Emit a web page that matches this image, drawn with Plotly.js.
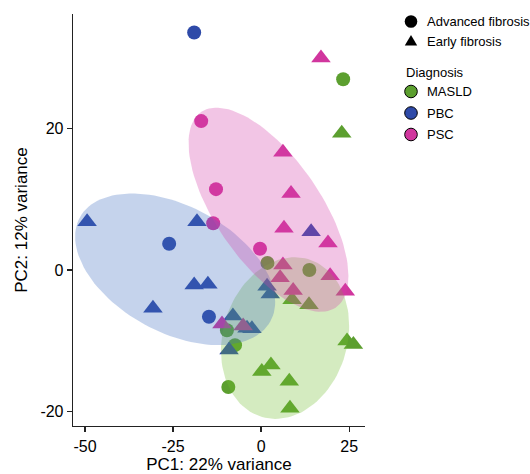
<!DOCTYPE html>
<html><head><meta charset="utf-8">
<script src="https://cdn.plot.ly/plotly-3.0.1.min.js"></script>
<style>html,body{margin:0;padding:0;background:#fff}#chart{width:530px;height:474px}</style>
</head><body><div id="chart"></div>
<script>
// ---- categories ----
const diagnoses = ['MASLD', 'PBC', 'PSC'];
const fibrosisStages = ['Advanced fibrosis', 'Early fibrosis'];
const xTickVals = [-50, -25, 0, 25];
const yTickVals = [-20, 0, 20];

// ---- sample scores (PC1, PC2) ----
const masldAdvancedPC1 = [23.3, 1.8, 13.7, -9.7, -7.4, -9.3];
const masldAdvancedPC2 = [26.9, 1.0, 0.0, -8.5, -10.6, -16.5];
const masldEarlyPC1 = [22.9, 8.8, 13.6, 0.2, 2.8, 8.0, 8.2, 24.4, 26.2];
const masldEarlyPC2 = [19.3, -4.2, -4.9, -14.3, -13.4, -15.7, -19.5, -10.0, -10.5];

const pbcAdvancedPC1 = [-19.0, -26.1, -14.8];
const pbcAdvancedPC2 = [33.5, 3.7, -6.6];
const pbcEarlyPC1 = [-49.4, -18.2, -19.0, -15.1, -30.7, 14.2, 1.7, 2.6, -8.0, -4.0, -2.6, -9.1];
const pbcEarlyPC2 = [6.8, 6.8, -2.1, -2.0, -5.4, 5.4, -2.3, -3.4, -6.5, -8.2, -8.3, -11.3];

const pscAdvancedPC1 = [-17.0, -12.8, -13.6, -0.3];
const pscAdvancedPC2 = [21.0, 11.4, 6.6, 3.0];
const pscEarlyPC1 = [17.0, 6.2, 8.5, 6.5, 19.0, 6.2, 5.4, 19.6, 9.1, 23.9, -11.1, -5.1];
const pscEarlyPC2 = [29.9, 16.6, 10.8, 5.9, 3.8, 0.7, -1.1, -0.8, -2.9, -3.0, -7.6, -7.9];

// ---- group ellipses (per diagnosis) ----
const ellipseCenterPC1 = [6.8, -24.4, 2.1];
const ellipseCenterPC2 = [-9.6, 0.1, 8.5];
const ellipseSpreadPC1 = [18.2, 28.4, 22.7];
const ellipseSpreadPC2 = [11.4, 10.7, 14.4];
const ellipseCorrelation = [0.15, -0.43, -0.65];

// ---- styles ----
const diagnosisColors = ['#5C9F2F', '#2E4AA8', '#D1369E'];
const ellipseFills = ['rgba(112,188,48,0.3)', 'rgba(62,108,192,0.3)', 'rgba(212,62,168,0.3)'];
const FONT = 'Liberation Sans, Arial, Helvetica, sans-serif';

const scores = [
  [[masldAdvancedPC1, masldAdvancedPC2], [masldEarlyPC1, masldEarlyPC2]],
  [[pbcAdvancedPC1, pbcAdvancedPC2], [pbcEarlyPC1, pbcEarlyPC2]],
  [[pscAdvancedPC1, pscAdvancedPC2], [pscEarlyPC1, pscEarlyPC2]]
];

const traces = [];
diagnoses.forEach((d, i) => {
  fibrosisStages.forEach((f, j) => {
    traces.push({
      type: 'scatter', mode: 'markers', name: d + ' ' + f,
      x: scores[i][j][0], y: scores[i][j][1],
      marker: {
        color: diagnosisColors[i],
        symbol: j === 0 ? 'circle' : 'triangle-up',
        size: j === 0 ? 14 : 17,
        line: {width: 0}
      },
      showlegend: false, hoverinfo: 'skip'
    });
  });
});

// ellipse outlines (drawn above points, translucent)
const N = 120;
diagnoses.forEach((d, i) => {
  const ex = [], ey = [];
  const r = ellipseCorrelation[i];
  for (let k = 0; k <= N; k++) {
    const t = 2 * Math.PI * k / N;
    ex.push(ellipseCenterPC1[i] + ellipseSpreadPC1[i] * Math.cos(t));
    ey.push(ellipseCenterPC2[i] + ellipseSpreadPC2[i] * (r * Math.cos(t) + Math.sqrt(1 - r * r) * Math.sin(t)));
  }
  traces.push({
    type: 'scatter', mode: 'lines', x: ex, y: ey, fill: 'toself',
    fillcolor: ellipseFills[i], line: {width: 0, color: 'rgba(0,0,0,0)'},
    showlegend: false, hoverinfo: 'skip', name: d + ' ellipse'
  });
});

// ---- custom legend (paper coordinates) ----
const W = 530, H = 474, ML = 73, MR = 165, MT = 14, MB = 48;
const PW = W - ML - MR, PH = H - MT - MB;
const xp = px => (px - ML) / PW;
const yp = py => (H - MB - py) / PH;

const shapes = [];
const annotations = [];
const legendSymX = 411, legendTextX = 425;
const shapeRowsY = [21.5, 42];
const diagRowsY = [91.5, 113, 134.5];

shapes.push({type: 'circle', xref: 'paper', yref: 'paper', xsizemode: 'pixel', ysizemode: 'pixel',
  xanchor: xp(legendSymX), yanchor: yp(shapeRowsY[0]), x0: -6.3, x1: 6.3, y0: -6.3, y1: 6.3,
  fillcolor: '#000', line: {width: 0}});
shapes.push({type: 'path', xref: 'paper', yref: 'paper', xsizemode: 'pixel', ysizemode: 'pixel',
  xanchor: xp(legendSymX), yanchor: yp(shapeRowsY[1]), path: 'M-6.2,-3.6 L6.2,-3.6 L0,7 Z',
  fillcolor: '#000', line: {width: 0}});
fibrosisStages.forEach((f, j) => {
  annotations.push({text: f, xref: 'paper', yref: 'paper', x: xp(legendTextX), y: yp(shapeRowsY[j]),
    xanchor: 'left', yanchor: 'middle', showarrow: false, font: {family: FONT, size: 13, color: '#000'}});
});
annotations.push({text: 'Diagnosis', xref: 'paper', yref: 'paper', x: xp(404), y: yp(72),
  xanchor: 'left', yanchor: 'middle', showarrow: false, font: {family: FONT, size: 13, color: '#000'}});
diagnoses.forEach((d, i) => {
  shapes.push({type: 'circle', xref: 'paper', yref: 'paper', xsizemode: 'pixel', ysizemode: 'pixel',
    xanchor: xp(legendSymX), yanchor: yp(diagRowsY[i]), x0: -6.3, x1: 6.3, y0: -6.3, y1: 6.3,
    fillcolor: diagnosisColors[i], line: {width: 1, color: '#000'}});
  annotations.push({text: d, xref: 'paper', yref: 'paper', x: xp(legendTextX), y: yp(diagRowsY[i]),
    xanchor: 'left', yanchor: 'middle', showarrow: false, font: {family: FONT, size: 13, color: '#000'}});
});

const layout = {
  width: W, height: H,
  margin: {l: ML, r: MR, t: MT, b: MB, pad: 0},
  paper_bgcolor: '#fff', plot_bgcolor: '#fff',
  font: {family: FONT, color: '#000'},
  showlegend: false,
  xaxis: {
    range: [-53.4, 29.5], tickvals: xTickVals, ticktext: xTickVals.map(String),
    showgrid: false, zeroline: false, showline: true, linecolor: '#222', linewidth: 1.3,
    ticks: 'outside', ticklen: 5, tickwidth: 1.2, tickcolor: '#222',
    tickfont: {family: FONT, size: 16, color: '#000'},
    title: {text: 'PC1: 22% variance', font: {family: FONT, size: 17, color: '#000'}, standoff: 4},
    automargin: false
  },
  yaxis: {
    range: [-22, 36.1], tickvals: yTickVals, ticktext: yTickVals.map(String),
    showgrid: false, zeroline: false, showline: true, linecolor: '#222', linewidth: 1.3,
    ticks: 'outside', ticklen: 5, tickwidth: 1.2, tickcolor: '#222',
    tickfont: {family: FONT, size: 16, color: '#000'},
    title: {text: 'PC2: 12% variance', font: {family: FONT, size: 17, color: '#000'}, standoff: 8},
    automargin: false
  },
  shapes: shapes,
  annotations: annotations
};

Plotly.newPlot('chart', traces, layout, {displayModeBar: false, staticPlot: true});
</script>
</body></html>
